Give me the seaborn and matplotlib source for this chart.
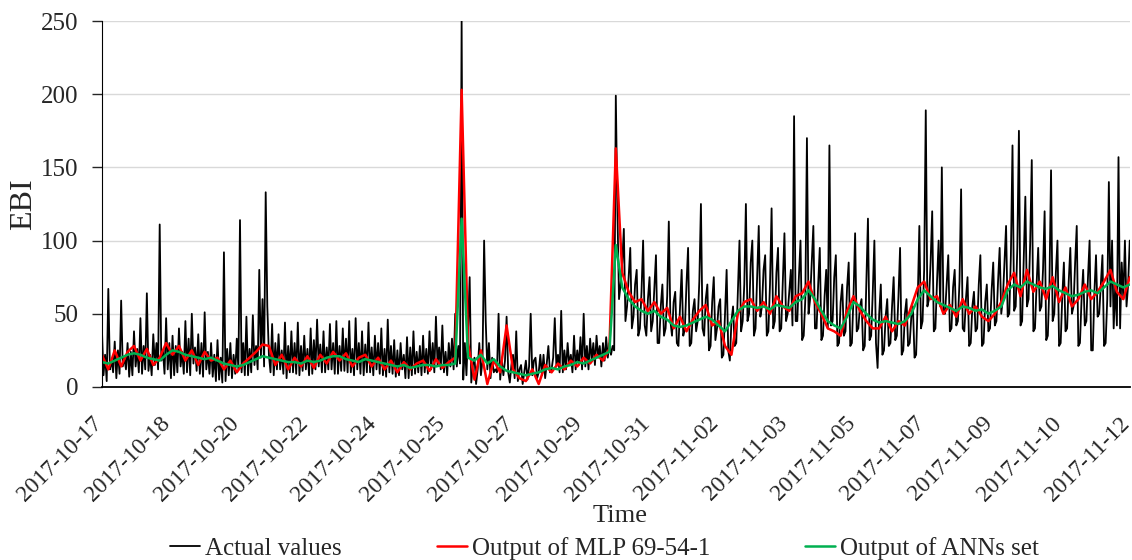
import numpy as np
import matplotlib
matplotlib.use("Agg")
import matplotlib.pyplot as plt
import matplotlib.transforms as mtransforms
import seaborn as sns

# tick labels of the category axis (as printed)
date_labels = ["2017-10-17", "2017-10-18", "2017-10-20", "2017-10-22", "2017-10-24",
               "2017-10-25", "2017-10-27", "2017-10-29", "2017-10-31", "2017-11-02",
               "2017-11-03", "2017-11-05", "2017-11-07", "2017-11-09", "2017-11-10",
               "2017-11-12"]

# actual EBI values
actual_a = [40, 8, 22, 4, 67, 12, 18, 10, 31, 6, 25, 9, 59, 14, 20, 12, 30, 7, 24, 8,
            38, 14, 26, 10, 47, 9, 28, 12, 64, 11, 22, 8, 36, 15, 30, 12, 111, 18, 25, 9,
            47, 12, 30, 6, 35, 8, 28, 10, 40, 14, 24, 9, 45, 10, 33, 8, 50, 16, 27, 11,
            36, 9, 30, 7, 51, 12, 24, 9, 30, 7, 22, 4, 32, 5, 20, 3, 92, 4, 26, 8,
            30, 6, 22, 9, 33, 12, 114, 10, 30, 8, 48, 8, 26, 10, 49, 15, 28, 12, 80, 20,
            60, 14, 133, 55, 22, 10, 43, 8, 30, 12, 36, 12, 25, 9, 44, 6, 28, 10, 38, 10,
            30, 9, 44, 8, 28, 11, 35, 12, 26, 8, 40, 9, 32, 12, 46, 14, 29, 10, 38, 10,
            27, 12, 43, 12, 30, 9, 45, 9, 28, 11, 40, 11, 33, 10, 45, 10, 26, 8, 47, 12,
            30, 9, 38, 8, 29, 10, 44, 10, 27, 8, 35, 12, 30, 9, 40, 8, 26, 7, 46, 10,
            28, 9, 32, 7, 25, 8, 30, 12, 22, 6, 34, 6, 27, 8, 38, 9, 24, 10, 28, 8,
            35, 10, 26, 9, 38, 12, 30, 10, 48, 15, 27, 12, 42, 10, 24, 8, 30, 14, 33, 12,
            50, 14, 28, 16]
actual_spike1 = [250]
actual_b = [5, 30, 8, 40, 75, 3, 15, 20, 2, 12, 30, 8, 18, 100, 45, 12, 30, 6, 20, 10,
            12, 10, 50, 5, 18, 8, 18, 48, 10, 3, 15, 22, 6, 38, 4, 12, 15, 2, 10, 18,
            5, 14, 50, 8, 18, 20, 6, 10, 22, 8, 22, 6, 16, 28, 10, 12, 20, 47, 14, 22,
            10, 52, 10, 25, 12, 30, 15, 22, 10, 35, 12, 25, 15, 34, 12, 50, 14, 28, 12, 33,
            18, 30, 15, 35, 20, 28, 14, 30, 18, 34, 20, 30, 22, 28, 25]
actual_spike2 = [199]
actual_c = [120, 60, 70, 85, 108, 45, 55, 75, 95, 40, 48, 70, 80, 35, 40, 65, 100, 42, 35, 60,
            75, 38, 45, 68, 90, 30, 30, 55, 70, 35, 40, 62, 113, 45, 35, 58, 65, 30, 28, 55,
            80, 35, 40, 70, 95, 28, 30, 52, 60, 38, 45, 72, 125, 40, 35, 60, 70, 25, 28, 58,
            75, 32, 40, 55, 60, 20, 22, 50, 80, 25, 18, 45, 55, 28, 30, 65, 100, 38, 45, 70,
            125, 45, 50, 85, 100, 35, 40, 75, 110, 48, 55, 80, 90, 35, 38, 70, 122, 40, 45, 78,
            95, 38, 40, 72, 105, 45, 50, 65, 80, 42, 185, 45, 45, 75, 100, 32, 35, 60, 170, 50,
            60, 85, 110, 40, 40, 70, 95, 32, 35, 62, 80, 40, 165, 42, 45, 75, 90, 28, 30, 58,
            70, 35, 38, 68, 85, 28, 30, 62, 105, 38, 40, 55, 60, 25, 28, 72, 115, 32, 35, 65,
            100, 30, 13, 50, 70, 22, 25, 48, 60, 28, 30, 55, 75, 32, 35, 62, 95, 22, 25, 50,
            60, 28, 30, 48, 55, 20, 22, 60, 110, 40, 45, 80, 189, 55, 60, 85, 120, 38, 40, 72,
            100, 55, 150, 50, 50, 70, 90, 38, 40, 68, 80, 42, 45, 72, 135, 40, 38, 60, 75, 28,
            30, 55, 65, 38, 40, 70, 90, 28, 30, 58, 70, 38, 40, 66, 85, 42, 45, 72, 95, 50,
            60, 85, 110, 48, 50, 90, 165, 52, 55, 95, 175, 42, 45, 88, 130, 55, 60, 98, 155, 38,
            40, 70, 95, 52, 55, 80, 120, 32, 35, 70, 148, 45, 50, 78, 100, 28, 30, 62, 85, 38,
            40, 72, 95, 50, 55, 85, 110, 28, 30, 60, 80, 42, 45, 75, 100, 25, 25, 65, 90, 48,
            50, 70, 90, 28, 30, 60, 140, 55, 100, 40, 70, 42, 157, 40, 85, 60, 100, 55, 70, 100]

# MLP 69-54-1 output (one value every fourth time step)
mlp_a = [22, 12, 25, 14, 24, 28, 18, 26, 15, 20, 30, 22, 28, 18,
         25, 15, 24, 18, 20, 12, 18, 10, 16, 20, 24, 29, 28, 15,
         22, 12, 20, 14, 21, 13, 22, 16, 24, 18, 23, 14, 20, 22,
         14, 20, 12, 18, 10, 17, 12, 16, 18, 11, 19, 13, 17, 20]
mlp_spike1 = [203]
mlp_b = [30, 5, 25, 2, 18, 10, 42, 12, 6, 4, 12, 2, 15, 10, 16, 12, 18, 14, 20, 16, 22, 18, 26]
mlp_spike2 = [163]
mlp_c = [78, 65, 58, 60, 52, 58, 50, 54, 40, 48, 38, 46, 52, 56, 42, 45, 28, 22, 50, 58,
         60, 52, 58, 50, 62, 55, 52, 62, 64, 72, 58, 50, 40, 38, 35, 52, 62, 52, 45, 40,
         40, 48, 38, 45, 42, 55, 68, 72, 60, 62, 50, 56, 48, 60, 50, 55, 48, 45, 50, 58,
         70, 78, 62, 80, 65, 72, 60, 75, 58, 68, 55, 60, 70, 60, 65, 72, 80, 65, 60, 75]

# ANNs set output (one value every fourth time step)
ann_a = [17, 16, 18, 20, 22, 23, 22, 20, 19, 18, 22, 25, 24, 22,
         21, 20, 19, 20, 18, 16, 15, 14, 15, 17, 19, 21, 20, 19,
         18, 17, 17, 16, 18, 17, 18, 20, 21, 21, 19, 18, 17, 19,
         18, 17, 16, 15, 14, 15, 13, 14, 15, 15, 14, 15, 15, 16]
ann_spike1 = [115]
ann_b = [20, 18, 22, 16, 19, 14, 11, 10, 9, 8, 9, 10, 12, 13, 12, 14, 15, 17, 16, 18, 20, 22, 24]
ann_spike2 = [97]
ann_c = [68, 60, 55, 52, 50, 52, 48, 46, 42, 41, 42, 44, 46, 48, 46, 42, 38, 45, 52, 55,
         55, 54, 55, 53, 56, 55, 54, 58, 60, 66, 60, 52, 45, 42, 40, 48, 58, 55, 50, 46,
         44, 45, 44, 43, 45, 50, 60, 66, 62, 58, 56, 54, 52, 55, 54, 52, 53, 50, 52, 55,
         66, 70, 68, 72, 70, 68, 67, 69, 66, 64, 62, 63, 65, 66, 64, 68, 72, 70, 68, 70]

actual = np.array(actual_a + actual_spike1 + actual_b + actual_spike2 + actual_c, dtype=float)
mlp = np.array(mlp_a + mlp_spike1 + mlp_b + mlp_spike2 + mlp_c, dtype=float)
ann = np.array(ann_a + ann_spike1 + ann_b + ann_spike2 + ann_c, dtype=float)

n_cat = len(date_labels) - 1
x_actual = np.linspace(0, n_cat, len(actual))
x_model = np.linspace(0, n_cat, len(mlp))

sns.set_style("white")
plt.rcParams["font.family"] = ["Liberation Serif", "DejaVu Serif"]

fig = plt.figure(figsize=(11.32, 5.6), dpi=100)
ax = fig.add_axes([0.090, 0.309, 0.908, 0.6535])

sns.lineplot(x=x_actual, y=actual, ax=ax, color="black", linewidth=1.3, label="Actual values")
sns.lineplot(x=x_model, y=mlp, ax=ax, color="#ff0000", linewidth=1.8, label="Output of MLP 69-54-1")
sns.lineplot(x=x_model, y=ann, ax=ax, color="#00b050", linewidth=1.8, label="Output of ANNs set")

ax.set_xlim(0, n_cat)
ax.set_ylim(0, 250)
ax.set_yticks(range(0, 251, 50))
ax.yaxis.grid(True, color="#d9d9d9", linewidth=1.0)
ax.set_axisbelow(True)

ax.set_xticks(range(len(date_labels)))
ax.set_xticklabels(date_labels, rotation=45, ha="right", va="center", rotation_mode="anchor")
ax.tick_params(axis="x", length=0, pad=24, labelsize=17)
ax.tick_params(axis="y", length=7, width=1, direction="out", left=True, labelsize=18, pad=10)
shift = mtransforms.ScaledTranslation(-0.03, 0, fig.dpi_scale_trans)
for lab in ax.get_xticklabels():
    lab.set_transform(lab.get_transform() + shift)

for side in ["top", "right"]:
    ax.spines[side].set_visible(False)
ax.spines["left"].set_color("black")
ax.spines["bottom"].set_color("black")
ax.spines["bottom"].set_linewidth(1.3)

ax.set_ylabel("EBI", fontsize=23, labelpad=2)
ax.set_xlabel("Time", fontsize=19, va="top")
ax.xaxis.set_label_coords(0.504, -0.322)

handles, labels = ax.get_legend_handles_labels()
ax.get_legend().remove()
fig.legend(handles, labels, loc="center", bbox_to_anchor=(0.534, 0.021), ncol=3,
           frameon=False, fontsize=18, handlelength=1.2, handletextpad=0.2,
           columnspacing=3.8)

fig.savefig("out.png", dpi=100)
